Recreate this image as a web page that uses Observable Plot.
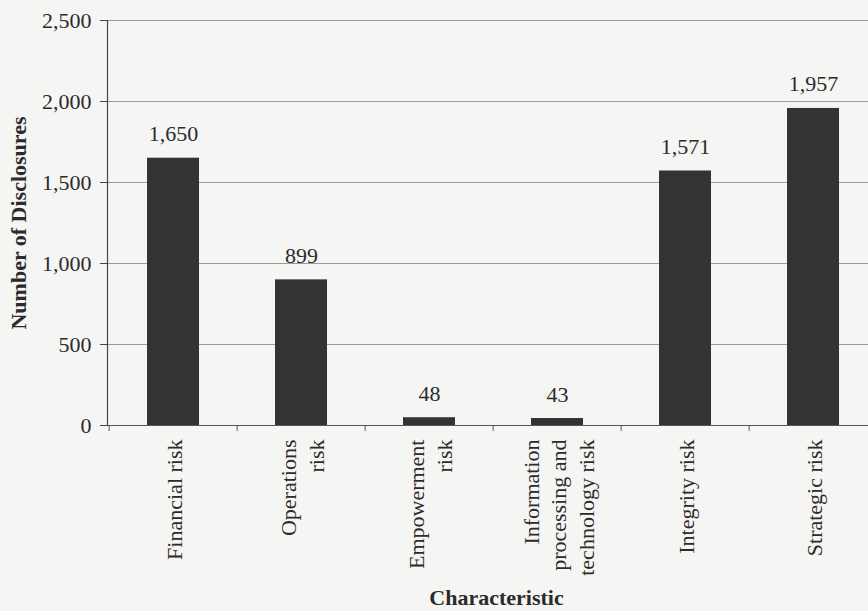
<!DOCTYPE html>
<html>
<head>
<meta charset="utf-8">
<script src="https://cdn.jsdelivr.net/npm/d3@7"></script>
<script src="https://cdn.jsdelivr.net/npm/@observablehq/plot@0.6"></script>
<style>
  html, body { margin: 0; padding: 0; background: #f5f5f3; }
  #chart svg { display: block; }
</style>
</head>
<body>
<div id="chart"></div>
<script>
const categories = ["Financial risk", "Operations risk", "Empowerment risk", "Information processing and technology risk", "Integrity risk", "Strategic risk"];
const tickLabels = ["Financial risk", "Operations\nrisk", "Empowerment\nrisk", "Information\nprocessing and\ntechnology risk", "Integrity risk", "Strategic risk"];
const values = [1650, 899, 48, 43, 1571, 1957];
const yTicks = [0, 500, 1000, 1500, 2000, 2500];
const yTitle = "Number of Disclosures";
const xTitle = "Characteristic";

const data = categories.map((c, i) => ({cat: c, value: values[i], label: tickLabels[i]}));
const labelOf = new Map(data.map(d => [d.cat, d.label]));
const fmt = d3.format(",");

const W = 868, H = 611, ML = 107, MR = -11, MT = 20, MB = 186;
const step = (W - ML - MR) / categories.length;
const ink = "#2b2b2b";
const FS = 22;

const chart = Plot.plot({
  width: W,
  height: H,
  marginLeft: ML,
  marginRight: MR,
  marginTop: MT,
  marginBottom: MB,
  style: {fontFamily: "'Liberation Serif', 'Times New Roman', serif", fontSize: FS + "px", color: ink, background: "#f5f5f3", overflow: "hidden"},
  x: {domain: categories, paddingInner: 0.59, paddingOuter: 0.295},
  y: {domain: [0, 2500]},
  marks: [
    Plot.gridY(yTicks, {stroke: "#9a9a9a", strokeOpacity: 1, strokeWidth: 1}),
    Plot.barY(data, {x: "cat", y: "value", fill: "#333333"}),
    Plot.ruleY([0], {stroke: "#555", strokeWidth: 1.2}),
    Plot.ruleX(categories, {x: d => d, y1: 0, y2: 0, insetBottom: -6, dx: -step / 2, stroke: "#555"}),
    Plot.frame({anchor: "left", stroke: "#444", strokeWidth: 1.2}),
    Plot.axisY(yTicks, {tickSize: 7, tickPadding: 9, tickFormat: fmt, fontSize: FS, stroke: "#444", fill: ink, label: null}),
    Plot.axisX({tickSize: 0, tickRotate: -90, tickPadding: 14, tickFormat: d => labelOf.get(d), fontSize: FS, fill: ink, label: null, lineHeight: 1.27}),
    Plot.text(data, {x: "cat", y: "value", text: d => fmt(d.value), lineAnchor: "bottom", dy: -17, fontSize: FS, fill: ink}),
    Plot.text([yTitle], {frameAnchor: "left", textAnchor: "middle", rotate: -90, dx: -89, fontWeight: "bold", fontSize: FS, fill: ink}),
    Plot.text([xTitle], {frameAnchor: "bottom", dy: 179, dx: 3, fontWeight: "bold", fontSize: FS, fill: ink})
  ]
});
document.getElementById("chart").append(chart);
</script>
</body>
</html>
